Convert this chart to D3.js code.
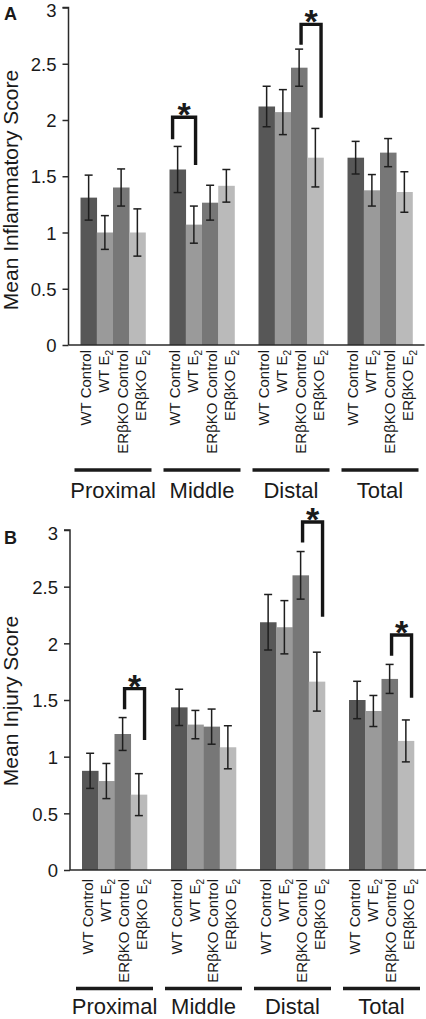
<!DOCTYPE html>
<html>
<head>
<meta charset="utf-8">
<script src="https://cdn.jsdelivr.net/npm/d3@7"></script>
<style>
  html, body { margin: 0; padding: 0; background: #fff; }
  svg { display: block; }
  text { font-family: "Liberation Sans", Arial, sans-serif; fill: #1a1a1a; }
</style>
</head>
<body>
<svg id="chart" width="426" height="1019"></svg>
<script>
// ---------- DATA ----------
const groups = ["Proximal", "Middle", "Distal", "Total"];
const treatments = ["WT Control", "WT E2", "ERβKO Control", "ERβKO E2"];
const yTicks = [0, 0.5, 1, 1.5, 2, 2.5, 3];
const yTickLabels = ["0", "0.5", "1", "1.5", "2", "2.5", "3"];

// Panel A: Mean Inflammatory Score (rows = groups, cols = treatments)
const inflamMean = [
  [1.31, 1.00, 1.40, 1.00],
  [1.56, 1.07, 1.265, 1.415],
  [2.12, 2.07, 2.465, 1.665],
  [1.665, 1.375, 1.71, 1.36]
];
const inflamErr = [
  [0.20, 0.15, 0.165, 0.21],
  [0.205, 0.165, 0.155, 0.145],
  [0.18, 0.20, 0.165, 0.26],
  [0.145, 0.14, 0.125, 0.18]
];
// Panel B: Mean Injury Score
const injuryMean = [
  [0.875, 0.785, 1.20, 0.665],
  [1.435, 1.283, 1.265, 1.083],
  [2.186, 2.142, 2.60, 1.662],
  [1.50, 1.403, 1.686, 1.139]
];
const injuryErr = [
  [0.155, 0.155, 0.145, 0.185],
  [0.16, 0.125, 0.155, 0.19],
  [0.245, 0.235, 0.21, 0.26],
  [0.165, 0.137, 0.128, 0.185]
];
// Significance brackets: group index, bar a, bar b, top level, leg ends (score units)
const inflamSig = [
  { g: 1, a: 0, b: 1, top: 2.025, aEnd: 1.83, bEnd: 1.60 },
  { g: 2, a: 2, b: 3, top: 2.85, aEnd: 2.67, bEnd: 2.02 }
];
const injurySig = [
  { g: 0, a: 2, b: 3, top: 1.60, aEnd: 1.418, bEnd: 1.147 },
  { g: 2, a: 2, b: 3, top: 3.07, aEnd: 2.89, bEnd: 2.235 },
  { g: 3, a: 2, b: 3, top: 2.074, aEnd: 1.89, bEnd: 1.52 }
];

// ---------- STYLE / LAYOUT ----------
const barColors = ["#575757", "#9a9a9a", "#777777", "#bababa"];
const FONT = '"Liberation Sans", Arial, sans-serif';

const panels = [
  { letter: "A", title: "Mean Inflammatory Score", mean: inflamMean, err: inflamErr, sig: inflamSig,
    axisX: 68.5, yBottom: 345, yTop: 7.5, letterY: 19.5, titleY: 190,
    labelGap: 5, lineY: 470, groupY: 498,
    legShift: [[-7, -4], [0, 0]] },
  { letter: "B", title: "Mean Injury Score", mean: injuryMean, err: injuryErr, sig: injurySig,
    axisX: 70, yBottom: 870, yTop: 530, letterY: 544, titleY: 701,
    labelGap: 9, lineY: 988.5, groupY: 1014,
    legShift: [[0, 0], [0, 0], [0, 0]] }
];

const svg = d3.select("#chart");

panels.forEach(p => {
  const g = svg.append("g");
  const y = d3.scaleLinear().domain([0, 3]).range([p.yBottom, p.yTop]);
  const x0 = d3.scaleBand().domain(groups).range([p.axisX, p.axisX + 356])
    .paddingInner(0.27).paddingOuter(0.135);
  const x1 = d3.scaleBand().domain(treatments).range([0, x0.bandwidth()]).padding(0);
  const bw = x1.bandwidth();

  // bars
  groups.forEach((grp, gi) => {
    const gg = g.append("g").attr("transform", `translate(${x0(grp)},0)`);
    treatments.forEach((t, ti) => {
      const v = p.mean[gi][ti], e = p.err[gi][ti];
      gg.append("rect")
        .attr("x", x1(t)).attr("width", bw + 0.3)
        .attr("y", y(v)).attr("height", y(0) - y(v))
        .attr("fill", barColors[ti]);
      const cx = x1(t) + bw / 2;
      const eg = gg.append("g").attr("stroke", "#1e1e1e").attr("stroke-width", 1.5);
      eg.append("line").attr("x1", cx).attr("x2", cx).attr("y1", y(v + e)).attr("y2", y(v - e));
      eg.append("line").attr("x1", cx - 4).attr("x2", cx + 4).attr("y1", y(v + e)).attr("y2", y(v + e));
      eg.append("line").attr("x1", cx - 4).attr("x2", cx + 4).attr("y1", y(v - e)).attr("y2", y(v - e));
    });
  });

  // y axis
  const yAxis = d3.axisLeft(y).tickValues(yTicks).tickFormat((d, i) => yTickLabels[i])
    .tickSize(6).tickPadding(6);
  const ya = g.append("g").attr("transform", `translate(${p.axisX},0)`).call(yAxis);
  ya.select(".domain").attr("stroke", "#2a2a2a").attr("stroke-width", 1.5).attr("d", `M-6,${p.yTop}H0V${p.yBottom}`);
  ya.selectAll(".tick line").attr("stroke", "#2a2a2a").attr("stroke-width", 1.5);
  ya.selectAll(".tick text").attr("font-size", 18.5).attr("font-family", FONT).attr("fill", "#1a1a1a")
    .attr("dy", d => d === 3 ? "0.5em" : "0.36em");

  // x axis line
  const xAxis = d3.axisBottom(x0).tickSize(0).tickFormat("");
  const xa = g.append("g").attr("transform", `translate(0,${p.yBottom})`).call(xAxis);
  xa.select(".domain").attr("stroke", "#2a2a2a").attr("stroke-width", 1.5)
    .attr("d", `M${p.axisX},0H${p.axisX + 356}`);

  // treatment labels (rotated)
  const labelStep = 18.3;
  groups.forEach((grp, gi) => {
    const gc = x0(grp) + x0.bandwidth() / 2;
    treatments.forEach((t, ti) => {
      const lx = gc + (ti - 1.5) * labelStep + 5.5;
      const txt = g.append("text")
        .attr("transform", `translate(${lx},${p.yBottom + p.labelGap}) rotate(-90)`)
        .attr("text-anchor", "end")
        .attr("font-size", 15);
      if (t.endsWith(" E2")) {
        txt.append("tspan").text(t.slice(0, -1));
        txt.append("tspan").text("2").attr("font-size", 10).attr("dy", 4);
      } else {
        txt.text(t);
      }
    });
    // group underline and label
    g.append("line")
      .attr("x1", gc - 38.5).attr("x2", gc + 38.5)
      .attr("y1", p.lineY).attr("y2", p.lineY)
      .attr("stroke", "#1a1a1a").attr("stroke-width", 3.3);
    g.append("text")
      .attr("x", gc).attr("y", p.groupY)
      .attr("text-anchor", "middle").attr("font-size", 22)
      .text(grp);
  });

  // significance brackets
  p.sig.forEach((s, si) => {
    const base = x0(groups[s.g]);
    const xa_ = base + x1(treatments[s.a]) + bw * 0.62 + p.legShift[si][0];
    const xb_ = base + x1(treatments[s.b]) + bw * 0.85 + p.legShift[si][1];
    g.append("path")
      .attr("d", `M${xa_},${y(s.aEnd)}V${y(s.top)}H${xb_}V${y(s.bEnd)}`)
      .attr("fill", "none").attr("stroke", "#151515").attr("stroke-width", 3.4)
      .attr("stroke-linejoin", "miter");
    g.append("text")
      .attr("x", (xa_ + xb_) / 2).attr("y", y(s.top) + 9)
      .attr("text-anchor", "middle").attr("font-size", 34).attr("font-weight", "bold")
      .text("*");
  });

  // panel letter
  g.append("text").attr("x", 4).attr("y", p.letterY)
    .attr("font-size", 18).attr("font-weight", "bold").text(p.letter);

  // y title
  g.append("text")
    .attr("transform", `translate(18,${p.titleY}) rotate(-90)`)
    .attr("text-anchor", "middle").attr("font-size", 21)
    .text(p.title);
});
</script>
</body>
</html>
